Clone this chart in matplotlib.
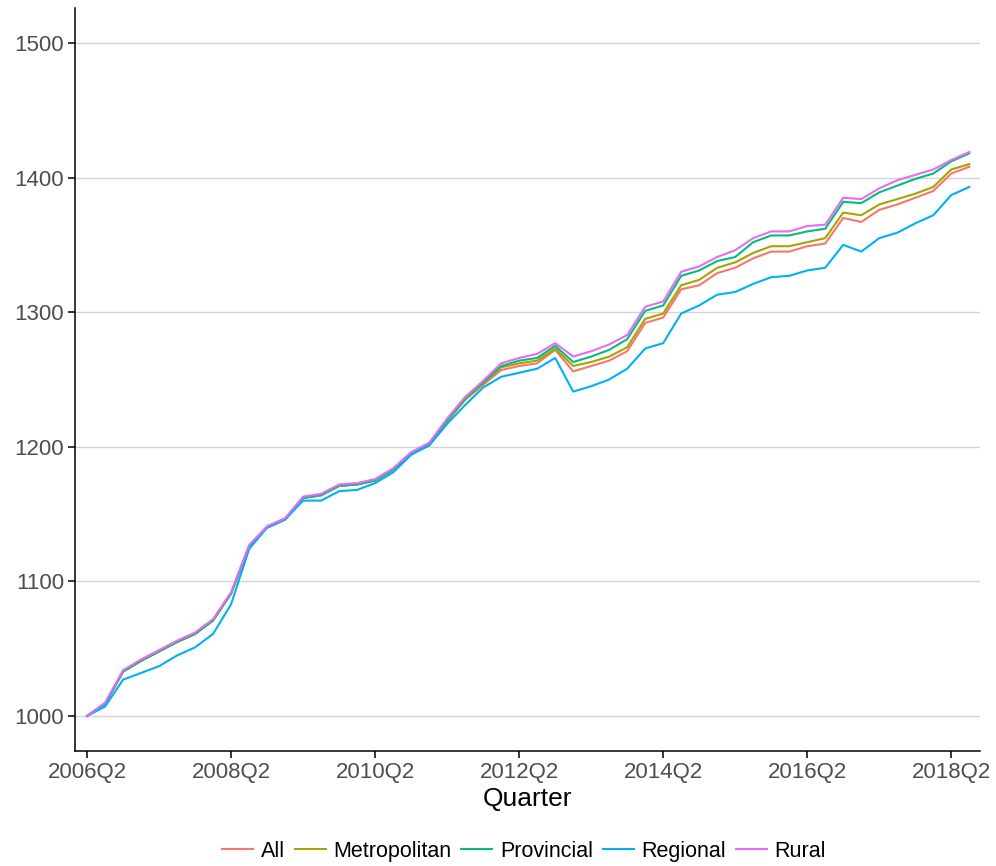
import numpy as np
import matplotlib.pyplot as plt

plt.rcParams['font.family'] = ['Liberation Sans', 'DejaVu Sans']

# quarterly index, 2006Q2 .. 2018Q3
quarters = [f"{2006 + (q + 1) // 4}Q{(q + 1) % 4 + 1}" for q in range(50)]

all_idx = [1000, 1009, 1033, 1041, 1048, 1055, 1061, 1071, 1091, 1126,
           1140, 1146, 1162, 1164, 1171, 1172, 1175, 1183, 1195, 1201,
           1219, 1235, 1246, 1257, 1260, 1262, 1272, 1256, 1260, 1264,
           1271, 1292, 1296, 1317, 1320, 1329, 1333, 1340, 1345, 1345,
           1349, 1351, 1370, 1367, 1376, 1380, 1385, 1390, 1403, 1408]
metro = [1000, 1009, 1033, 1041, 1048, 1055, 1061, 1071, 1091, 1126,
         1140, 1146, 1162, 1164, 1171, 1172, 1175, 1183, 1195, 1201,
         1219, 1235, 1247, 1259, 1262, 1264, 1273, 1260, 1263, 1267,
         1274, 1295, 1299, 1320, 1324, 1333, 1337, 1344, 1349, 1349,
         1352, 1355, 1374, 1372, 1380, 1384, 1388, 1393, 1406, 1410]
provincial = [1000, 1009, 1033, 1041, 1048, 1055, 1061, 1071, 1091, 1126,
              1140, 1146, 1162, 1164, 1171, 1172, 1175, 1183, 1195, 1202,
              1220, 1236, 1248, 1260, 1264, 1266, 1275, 1263, 1267, 1272,
              1280, 1301, 1305, 1327, 1331, 1338, 1341, 1352, 1357, 1357,
              1360, 1362, 1382, 1381, 1389, 1394, 1399, 1403, 1412, 1418]
regional = [1000, 1007, 1027, 1032, 1037, 1045, 1051, 1061, 1083, 1124,
            1140, 1146, 1160, 1160, 1167, 1168, 1173, 1181, 1194, 1201,
            1217, 1231, 1244, 1252, 1255, 1258, 1266, 1241, 1245, 1250,
            1258, 1273, 1277, 1299, 1305, 1313, 1315, 1321, 1326, 1327,
            1331, 1333, 1350, 1345, 1355, 1359, 1366, 1372, 1387, 1393]
rural = [1000, 1010, 1034, 1042, 1049, 1056, 1062, 1072, 1092, 1127,
         1141, 1147, 1163, 1165, 1172, 1173, 1176, 1184, 1196, 1203,
         1221, 1237, 1249, 1262, 1266, 1269, 1277, 1267, 1271, 1276,
         1283, 1304, 1308, 1330, 1334, 1341, 1346, 1355, 1360, 1360,
         1364, 1365, 1385, 1384, 1392, 1398, 1402, 1406, 1413, 1419]

series = {'All': all_idx, 'Metropolitan': metro, 'Provincial': provincial,
          'Regional': regional, 'Rural': rural}
colors = ['#F8766D', '#A3A500', '#00BF7D', '#00B0F6', '#E76BF3']

fig = plt.figure(figsize=(9.96, 8.66), dpi=100)
ax = fig.add_axes([0.0753, 0.1328, 0.9087, 0.858])

x = np.arange(len(quarters))
for (name, vals), c in zip(series.items(), colors):
    ax.plot(x, vals, color=c, lw=1.5, label=name)

ax.set_xlim(-0.67, 49.6)
ax.set_ylim(974, 1526)
ax.set_yticks([1000, 1100, 1200, 1300, 1400, 1500])
ax.set_xticks(x[::8])
ax.set_xticklabels(quarters[::8])
ax.yaxis.grid(True, color='#D3D3D3', lw=1.0)
ax.set_axisbelow(True)

for s in ['top', 'right']:
    ax.spines[s].set_visible(False)
for s in ['left', 'bottom']:
    ax.spines[s].set_linewidth(1.1)
ax.tick_params(length=5, width=1.1, labelsize=16, labelcolor='#4D4D4D', pad=3)
ax.set_xlabel('Quarter', fontsize=19, labelpad=3)

fig.legend(loc='center', bbox_to_anchor=(0.526, 0.017), ncol=5, frameon=False,
           fontsize=15.5, handlelength=1.45, handletextpad=0.35, columnspacing=0.45)

fig.savefig('out.png', dpi=100)
